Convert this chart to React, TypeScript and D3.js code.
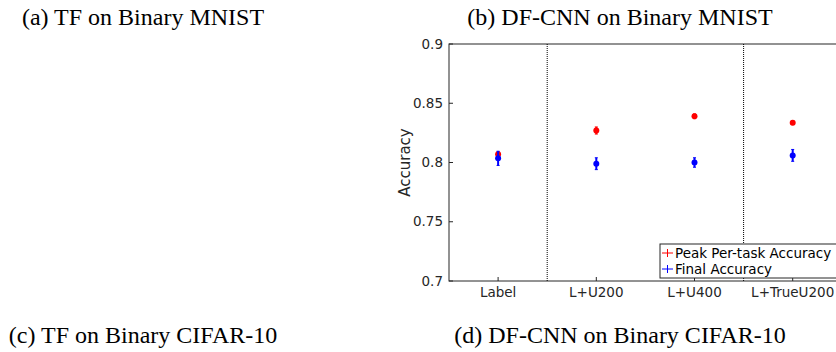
import React, { useEffect, useRef } from "react";
import * as d3 from "d3";

const categories = ["Label", "L+U200", "L+U400", "L+TrueU200"];
const peakAcc = [0.807, 0.827, 0.839, 0.8335];
const peakErr = [0.002, 0.003, 0.002, 0.0015];
const finalAcc = [0.8035, 0.799, 0.8, 0.806];
const finalErr = [0.006, 0.005, 0.004, 0.005];
const yTicks = [0.7, 0.75, 0.8, 0.85, 0.9];
const separators = [1.5, 3.5];
const legendItems = ["Peak Per-task Accuracy", "Final Accuracy"];
const seriesColors = ["#ff0000", "#0000ff"];
const titles = [
  "(a) TF on Binary MNIST",
  "(b) DF-CNN on Binary MNIST",
  "(c) TF on Binary CIFAR-10",
  "(d) DF-CNN on Binary CIFAR-10",
];

const App = () => {
  const ref = useRef<SVGSVGElement>(null);

  useEffect(() => {
    const svg = d3.select(ref.current);
    svg.selectAll("*").remove();

    // captions of the four sub-figures, centred under each panel
    const titlePos = [
      [143, 25],
      [620, 25],
      [143, 343],
      [620, 343],
    ];
    svg
      .selectAll("text.title")
      .data(titles)
      .enter()
      .append("text")
      .attr("class", "title")
      .attr("x", (d, i) => titlePos[i][0])
      .attr("y", (d, i) => titlePos[i][1])
      .attr("text-anchor", "middle")
      .attr("font-family", "Liberation Serif, Times New Roman, serif")
      .attr("font-size", "24px")
      .attr("fill", "#000")
      .text(d => d);

    const left = 449,
      top = 44,
      bottom = 281;
    const step = 98.2;
    const x = d3
      .scaleLinear()
      .domain([0.5, 4.5])
      .range([left, left + 4 * step]);
    const y = d3.scaleLinear().domain([0.7, 0.9]).range([bottom, top]);

    const g = svg.append("g").attr("font-family", "DejaVu Sans, sans-serif");
    const axisColor = "#262626";

    // frame
    g.append("rect")
      .attr("x", x(0.5))
      .attr("y", y(0.9))
      .attr("width", x(4.5) - x(0.5))
      .attr("height", y(0.7) - y(0.9))
      .attr("fill", "#fff")
      .attr("stroke", axisColor)
      .attr("stroke-width", 1);

    // y ticks
    yTicks.forEach(t => {
      g.append("line")
        .attr("x1", x(0.5))
        .attr("x2", x(0.5) + 4)
        .attr("y1", y(t))
        .attr("y2", y(t))
        .attr("stroke", axisColor);
      g.append("text")
        .attr("x", x(0.5) - 6)
        .attr("y", y(t))
        .attr("dy", "0.35em")
        .attr("text-anchor", "end")
        .attr("font-size", "13.5px")
        .attr("fill", axisColor)
        .text(d3.format("")(t));
    });

    // x ticks
    categories.forEach((c, i) => {
      g.append("line")
        .attr("x1", x(i + 1))
        .attr("x2", x(i + 1))
        .attr("y1", y(0.7))
        .attr("y2", y(0.7) - 4)
        .attr("stroke", axisColor);
      g.append("text")
        .attr("x", x(i + 1))
        .attr("y", y(0.7) + 16)
        .attr("text-anchor", "middle")
        .attr("font-size", "13.5px")
        .attr("fill", axisColor)
        .text(c);
    });

    g.append("text")
      .attr("transform", `translate(410,${(top + bottom) / 2}) rotate(-90)`)
      .attr("text-anchor", "middle")
      .attr("font-size", "15px")
      .attr("fill", axisColor)
      .text("Accuracy");

    // dotted separators
    separators.forEach(s => {
      g.append("line")
        .attr("x1", x(s))
        .attr("x2", x(s))
        .attr("y1", y(0.9))
        .attr("y2", y(0.7))
        .attr("stroke", "#000")
        .attr("stroke-dasharray", "1,1");
    });

    const drawSeries = (vals, errs, color) => {
      vals.forEach((v, i) => {
        const cx = x(i + 1);
        g.append("line")
          .attr("x1", cx)
          .attr("x2", cx)
          .attr("y1", y(v - errs[i]))
          .attr("y2", y(v + errs[i]))
          .attr("stroke", color)
          .attr("stroke-width", 2);
        [v - errs[i], v + errs[i]].forEach(e => {
          g.append("line")
            .attr("x1", cx - 1.5)
            .attr("x2", cx + 1.5)
            .attr("y1", y(e))
            .attr("y2", y(e))
            .attr("stroke", color)
            .attr("stroke-width", 1);
        });
        g.append("circle")
          .attr("cx", cx)
          .attr("cy", y(v))
          .attr("r", 3)
          .attr("fill", color);
      });
    };
    drawSeries(peakAcc, peakErr, seriesColors[0]);
    drawSeries(finalAcc, finalErr, seriesColors[1]);

    // legend
    const lg = g.append("g").attr("transform", "translate(660,244)");
    lg.append("rect")
      .attr("width", 200)
      .attr("height", 34)
      .attr("fill", "#fff")
      .attr("stroke", axisColor);
    legendItems.forEach((name, i) => {
      const ly = 9 + i * 16;
      lg.append("line")
        .attr("x1", 2)
        .attr("x2", 13)
        .attr("y1", ly)
        .attr("y2", ly)
        .attr("stroke", seriesColors[i]);
      lg.append("line")
        .attr("x1", 7.5)
        .attr("x2", 7.5)
        .attr("y1", ly - 4)
        .attr("y2", ly + 4)
        .attr("stroke", seriesColors[i]);
      lg.append("text")
        .attr("x", 15)
        .attr("y", ly)
        .attr("dy", "0.35em")
        .attr("font-size", "13.5px")
        .attr("fill", "#000")
        .text(name);
    });
  }, []);

  return (
    <svg
      ref={ref}
      width={836}
      height={352}
      style={{ position: "absolute", left: 0, top: 0, background: "#fff" }}
    />
  );
};

export default App;
